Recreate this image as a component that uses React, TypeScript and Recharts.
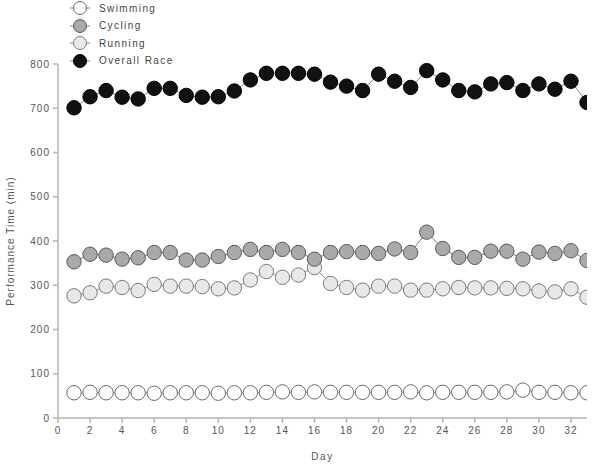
import React from 'react';
import { LineChart, Line, XAxis, YAxis, Legend } from 'recharts';

const days = [1,2,3,4,5,6,7,8,9,10,11,12,13,14,15,16,17,18,19,20,21,22,23,24,25,26,27,28,29,30,31,32,33];
const swimming = [57,58,57,57,57,56,57,57,57,56,57,57,58,59,58,59,58,58,58,58,58,59,57,58,58,58,58,59,63,58,58,57,57];
const cycling = [353,370,368,359,362,374,374,357,357,365,374,381,374,381,374,359,374,376,374,372,382,374,420,383,363,363,377,377,359,375,372,378,356];
const running = [276,283,298,295,288,302,298,298,297,292,294,312,331,318,323,340,304,295,289,298,298,289,289,292,295,294,294,293,292,287,285,292,273];
const overall = [701,726,740,725,721,745,745,729,725,726,739,764,779,779,779,777,759,750,740,777,761,747,785,764,740,737,755,758,740,755,743,761,713];

const xTicks = [0,2,4,6,8,10,12,14,16,18,20,22,24,26,28,30,32];
const yTicks = [0,100,200,300,400,500,600,700,800];

const seriesNames = ['Swimming', 'Cycling', 'Running', 'Overall Race'];
const seriesFill = ['#ffffff', '#a9a9a9', '#e8e8e8', '#111111'];
const seriesStroke = ['#6a6a6a', '#5a5a5a', '#7a7a7a', '#000000'];

const data = days.map((d, i) => ({
  day: d,
  swimming: swimming[i],
  cycling: cycling[i],
  running: running[i],
  overall: overall[i],
}));

const FONT = '"Liberation Sans", Arial, sans-serif';
const textStyle = { fontFamily: FONT, fontSize: 10, letterSpacing: 1, fill: '#555' };

const LegendContent = () => (
  <div style={{ position: 'relative', width: 200, height: 70 }}>
    {seriesNames.map((name, i) => (
      <div key={name} style={{ position: 'absolute', left: 68, top: 8.3 + i * 17.4 - 9, height: 18, display: 'flex', alignItems: 'center' }}>
        <svg width={24} height={18}>
          <line x1={2} y1={9} x2={22} y2={9} stroke="#888" strokeWidth={1} />
          <circle cx={12} cy={9} r={6.5} fill={seriesFill[i]} stroke={seriesStroke[i]} strokeWidth={1} />
        </svg>
        <span style={{ marginLeft: 7, fontFamily: FONT, fontSize: 10, letterSpacing: 1.4, color: '#444' }}>{name}</span>
      </div>
    ))}
  </div>
);

const keys = ['swimming', 'running', 'cycling', 'overall'];
const keyIdx: Record<string, number> = { swimming: 0, cycling: 1, running: 2, overall: 3 };
const lineColors: Record<string, string> = { swimming: '#999', running: '#999', cycling: '#777', overall: '#888' };

export default function App() {
  return (
    <div style={{ position: 'absolute', left: 0, top: 0, width: 600, height: 466, background: '#fff' }}>
      <LineChart
        width={600}
        height={466}
        data={data}
        margin={{ top: 64, right: 13, bottom: 0, left: 0 }}
      >
        <XAxis
          dataKey="day"
          type="number"
          domain={[0, 33]}
          ticks={xTicks}
          allowDataOverflow
          height={48}
          stroke="#b5b5b5"
          strokeWidth={1.5}
          tickSize={5}
          tickMargin={4}
          tick={textStyle}
          tickLine={{ stroke: '#b5b5b5' }}
          label={{ value: 'Day', position: 'insideBottom', offset: 6, style: { ...textStyle, fontSize: 10, letterSpacing: 1.5 } }}
        />
        <YAxis
          type="number"
          domain={[0, 800]}
          ticks={yTicks}
          width={58}
          stroke="#b5b5b5"
          strokeWidth={1.5}
          tickSize={5}
          tickMargin={3}
          tick={textStyle}
          tickLine={{ stroke: '#b5b5b5' }}
          label={{ value: 'Performance Time (min)', angle: -90, position: 'insideLeft', offset: 10, style: { ...textStyle, textAnchor: 'middle' } }}
        />
        <Legend
          layout="vertical"
          align="center"
          verticalAlign="middle"
          wrapperStyle={{ position: 'absolute', top: 0, left: 0, width: 200, height: 70 }}
          content={() => <LegendContent />}
        />
        {keys.map((k) => (
          <Line
            key={k}
            dataKey={k}
            name={seriesNames[keyIdx[k]]}
            stroke={lineColors[k]}
            strokeWidth={1}
            isAnimationActive={false}
            dot={{ r: 7.2, fill: seriesFill[keyIdx[k]], stroke: seriesStroke[keyIdx[k]], strokeWidth: 1 }}
            activeDot={false}
          />
        ))}
      </LineChart>
    </div>
  );
}
